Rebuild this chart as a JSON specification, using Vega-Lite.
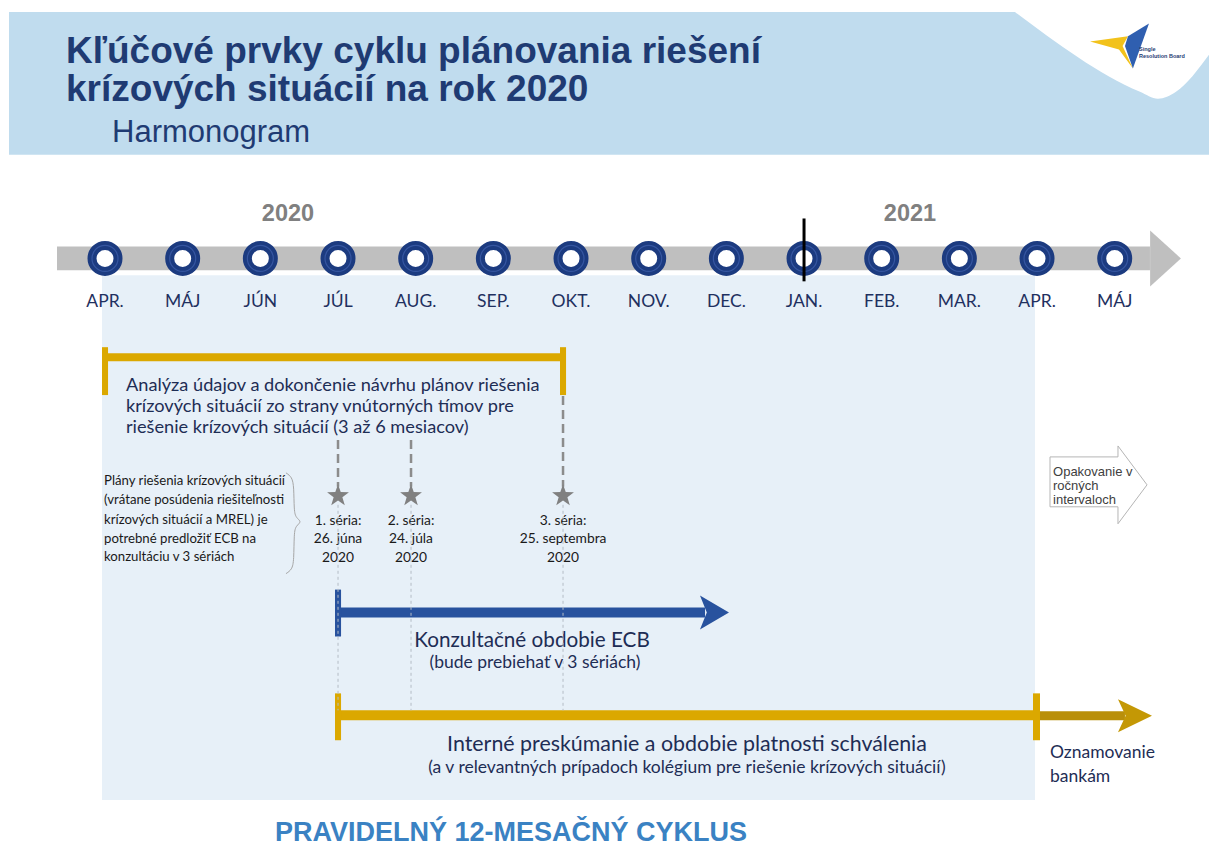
{
"$schema":"https://vega.github.io/schema/vega-lite/v6.json",
"width":1209,"height":846,"padding":0,
"autosize":{"type":"fit","contains":"padding"},
"background":"#ffffff",
"config":{"view":{"stroke":null}},
"datasets":{
"shapes":[
{"part":"header","x":-1.236,"x2":14.214,"y":12,"y2":155},
{"part":"panel","x":-0.039,"x2":11.974,"y":276,"y2":802},
{"part":"timeline","x":-0.618,"x2":13.454,"y":247,"y2":271},
{"part":"analysis","x":0.0,"x2":5.897,"y":354,"y2":362},
{"part":"analysis","x":-0.039,"x2":0.039,"y":348,"y2":396},
{"part":"analysis","x":5.858,"x2":5.936,"y":348,"y2":396},
{"part":"consultation","x":3.0,"x2":7.725,"y":609,"y2":619},
{"part":"consultation","x":2.961,"x2":3.039,"y":591,"y2":638},
{"part":"review","x":3.0,"x2":11.974,"y":712,"y2":722},
{"part":"review","x":2.961,"x2":3.039,"y":695,"y2":742},
{"part":"review","x":11.948,"x2":12.038,"y":695,"y2":742},
{"part":"notification","x":12.038,"x2":13.132,"y":713,"y2":722}
],
"cutout":[
{"x":11.716,"y":12,"y2":12},
{"x":13.326,"y":92,"y2":12},
{"x":13.557,"y":99,"y2":12},
{"x":13.789,"y":92,"y2":12},
{"x":14.214,"y":55,"y2":12}
],
"logo":[{"part":"wing","x":13.055,"y":46}],
"heads":[
{"part":"timeline","x":13.654,"y":259},
{"part":"consultation","x":7.847,"y":614},
{"part":"notification","x":13.261,"y":717.5}
],
"months":[
{"x":0,"label":"APR."},{"x":1,"label":"MÁJ"},{"x":2,"label":"JÚN"},{"x":3,"label":"JÚL"},
{"x":4,"label":"AUG."},{"x":5,"label":"SEP."},{"x":6,"label":"OKT."},{"x":7,"label":"NOV."},
{"x":8,"label":"DEC."},{"x":9,"label":"JAN."},{"x":10,"label":"FEB."},{"x":11,"label":"MAR."},
{"x":12,"label":"APR."},{"x":13,"label":"MÁJ"}
],
"marker":[{"x":9,"y":219,"y2":282}],
"dashes":[
{"kind":"heavy","x":3.0,"y":441,"y2":488},
{"kind":"heavy","x":3.94,"y":441,"y2":488},
{"kind":"heavy","x":5.897,"y":397,"y2":488},
{"kind":"thin","x":3.0,"y":506,"y2":712},
{"kind":"thin","x":3.94,"y":506,"y2":712},
{"kind":"thin","x":5.897,"y":506,"y2":712}
],
"stars":[{"x":3.0,"y":497},{"x":3.94,"y":497},{"x":5.897,"y":497}],
"brace":[
{"o":1,"x":2.33,"y":474},{"o":2,"x":2.407,"y":478},{"o":3,"x":2.433,"y":488},{"o":4,"x":2.433,"y":512},
{"o":5,"x":2.458,"y":519},{"o":6,"x":2.536,"y":523},{"o":7,"x":2.458,"y":527},{"o":8,"x":2.433,"y":534},
{"o":9,"x":2.433,"y":562},{"o":10,"x":2.407,"y":571},{"o":11,"x":2.33,"y":575}
],
"repeatBox":[
{"o":1,"x":12.167,"y":458},{"o":2,"x":13.042,"y":458},{"o":3,"x":13.042,"y":447},{"o":4,"x":13.416,"y":486},
{"o":5,"x":13.042,"y":525},{"o":6,"x":13.042,"y":508},{"o":7,"x":12.167,"y":508},{"o":8,"x":12.167,"y":458}
],
"texts":[
{"role":"title","x":-0.502,"y":63,"t":"Kľúčové prvky cyklu plánovania riešení"},
{"role":"title","x":-0.502,"y":101,"t":"krízových situácií na rok 2020"},
{"role":"subtitle","x":0.09,"y":142,"t":"Harmonogram"},
{"role":"year","x":2.356,"y":222,"t":"2020"},
{"role":"year","x":10.364,"y":222,"t":"2021"},
{"role":"analysis","x":0.27,"y":392,"t":"Analýza údajov a dokončenie návrhu plánov riešenia"},
{"role":"analysis","x":0.27,"y":413,"t":"krízových situácií zo strany vnútorných tímov pre"},
{"role":"analysis","x":0.27,"y":434,"t":"riešenie krízových situácií (3 až 6 mesiacov)"},
{"role":"note","x":-0.013,"y":486,"t":"Plány riešenia krízových situácií"},
{"role":"note","x":-0.013,"y":505,"t":"(vrátane posúdenia riešiteľnosti"},
{"role":"note","x":-0.013,"y":525,"t":"krízových situácií a MREL) je"},
{"role":"note","x":-0.013,"y":544,"t":"potrebné predložiť ECB na"},
{"role":"note","x":-0.013,"y":562,"t":"konzultáciu v 3 sériách"},
{"role":"series","x":3.0,"y":526,"t":"1. séria:"},
{"role":"series","x":3.0,"y":544,"t":"26. júna"},
{"role":"series","x":3.0,"y":563,"t":"2020"},
{"role":"series","x":3.94,"y":526,"t":"2. séria:"},
{"role":"series","x":3.94,"y":544,"t":"24. júla"},
{"role":"series","x":3.94,"y":563,"t":"2020"},
{"role":"series","x":5.897,"y":526,"t":"3. séria:"},
{"role":"series","x":5.897,"y":544,"t":"25. septembra"},
{"role":"series","x":5.897,"y":563,"t":"2020"},
{"role":"consult","x":5.498,"y":649,"t":"Konzultačné obdobie ECB"},
{"role":"consultSub","x":5.536,"y":670,"t":"(bude prebiehať v 3 sériách)"},
{"role":"review","x":7.493,"y":753,"t":"Interné preskúmanie a obdobie platnosti schválenia"},
{"role":"reviewSub","x":7.493,"y":775,"t":"(a v relevantných prípadoch kolégium pre riešenie krízových situácií)"},
{"role":"notify","x":12.167,"y":760,"t":"Oznamovanie"},
{"role":"notify","x":12.167,"y":784,"t":"bankám"},
{"role":"repeat","x":12.206,"y":477,"t":"Opakovanie v"},
{"role":"repeat","x":12.206,"y":491,"t":"ročných"},
{"role":"repeat","x":12.206,"y":505,"t":"intervaloch"},
{"role":"footer","x":5.227,"y":843,"t":"PRAVIDELNÝ 12-MESAČNÝ CYKLUS"},
{"role":"logo","x":13.313,"y":51,"t":"Single"},
{"role":"logo","x":13.313,"y":58,"t":"Resolution Board"}
]
},
"layer":[
{"data":{"name":"shapes"},"mark":{"type":"rect"},
 "encoding":{
  "x":{"field":"x","type":"quantitative","scale":{"domain":[-1.352,14.214],"nice":false,"zero":false},"axis":null},
  "x2":{"field":"x2"},
  "y":{"field":"y","type":"quantitative","scale":{"domain":[0,846],"reverse":true,"nice":false,"zero":false},"axis":null},
  "y2":{"field":"y2"},
  "color":{"field":"part","type":"nominal","legend":null,"scale":{"domain":["header","panel","timeline","analysis","consultation","review","notification"],"range":["#c0dcee","#e7f0f8","#bfbfbf","#dba800","#28529e","#dba800","#b98f0a"]}}
 }},
{"data":{"name":"texts"},"transform":[{"filter":"datum.role==='title'"}],
 "mark":{"type":"text","font":"Liberation Sans","fontWeight":"bold","fontSize":37,"align":"left","baseline":"alphabetic","color":"#1f3b73"},
 "encoding":{
  "x":{"field":"x","type":"quantitative","scale":{"domain":[-1.352,14.214],"nice":false,"zero":false},"axis":null},
  "y":{"field":"y","type":"quantitative","scale":{"domain":[0,846],"reverse":true,"nice":false,"zero":false},"axis":null},
  "text":{"field":"t"}
 }},
{"data":{"name":"texts"},"transform":[{"filter":"datum.role==='subtitle'"}],
 "mark":{"type":"text","font":"Liberation Sans","fontSize":31,"align":"left","baseline":"alphabetic","color":"#1f3b73"},
 "encoding":{
  "x":{"field":"x","type":"quantitative","scale":{"domain":[-1.352,14.214],"nice":false,"zero":false},"axis":null},
  "y":{"field":"y","type":"quantitative","scale":{"domain":[0,846],"reverse":true,"nice":false,"zero":false},"axis":null},
  "text":{"field":"t"}
 }},
{"data":{"name":"cutout"},"mark":{"type":"area","orient":"vertical","color":"#ffffff","interpolate":"monotone"},
 "encoding":{
  "x":{"field":"x","type":"quantitative","scale":{"domain":[-1.352,14.214],"nice":false,"zero":false},"axis":null},
  "y":{"field":"y","type":"quantitative","scale":{"domain":[0,846],"reverse":true,"nice":false,"zero":false},"axis":null},
  "y2":{"field":"y2"}
 }},
{"data":{"name":"logo"},"mark":{"type":"point","filled":true,"opacity":1,"color":"#f2c21b","size":3600,"shape":"M-0.964,-0.143L0.3,-0.32L0.12,0.0L0.464,0.75L0.0,0.12Z"},
 "encoding":{
  "x":{"field":"x","type":"quantitative","scale":{"domain":[-1.352,14.214],"nice":false,"zero":false},"axis":null},
  "y":{"field":"y","type":"quantitative","scale":{"domain":[0,846],"reverse":true,"nice":false,"zero":false},"axis":null}
 }},
{"data":{"name":"logo"},"mark":{"type":"point","filled":true,"opacity":1,"color":"#2f5fb0","size":3600,"shape":"M1.0,-0.75L0.464,0.75L0.2,0.0L0.3,-0.32Z"},
 "encoding":{
  "x":{"field":"x","type":"quantitative","scale":{"domain":[-1.352,14.214],"nice":false,"zero":false},"axis":null},
  "y":{"field":"y","type":"quantitative","scale":{"domain":[0,846],"reverse":true,"nice":false,"zero":false},"axis":null}
 }},
{"data":{"name":"texts"},"transform":[{"filter":"datum.role==='logo'"}],
 "mark":{"type":"text","font":"Liberation Sans","fontWeight":"bold","fontSize":5.5,"align":"left","baseline":"alphabetic","color":"#1f3b73"},
 "encoding":{
  "x":{"field":"x","type":"quantitative","scale":{"domain":[-1.352,14.214],"nice":false,"zero":false},"axis":null},
  "y":{"field":"y","type":"quantitative","scale":{"domain":[0,846],"reverse":true,"nice":false,"zero":false},"axis":null},
  "text":{"field":"t"}
 }},
{"data":{"name":"heads"},"transform":[{"filter":"datum.part==='timeline'"}],
 "mark":{"type":"point","filled":true,"opacity":1,"color":"#bfbfbf","size":3136,"shape":"M-0.55,-1L0.55,0L-0.55,1Z"},
 "encoding":{
  "x":{"field":"x","type":"quantitative","scale":{"domain":[-1.352,14.214],"nice":false,"zero":false},"axis":null},
  "y":{"field":"y","type":"quantitative","scale":{"domain":[0,846],"reverse":true,"nice":false,"zero":false},"axis":null}
 }},
{"data":{"name":"heads"},"transform":[{"filter":"datum.part==='consultation'"}],
 "mark":{"type":"point","filled":true,"opacity":1,"color":"#28529e","size":1156,"shape":"M-0.853,-1L0.853,0L-0.853,1L-0.45,0Z"},
 "encoding":{
  "x":{"field":"x","type":"quantitative","scale":{"domain":[-1.352,14.214],"nice":false,"zero":false},"axis":null},
  "y":{"field":"y","type":"quantitative","scale":{"domain":[0,846],"reverse":true,"nice":false,"zero":false},"axis":null}
 }},
{"data":{"name":"heads"},"transform":[{"filter":"datum.part==='notification'"}],
 "mark":{"type":"point","filled":true,"opacity":1,"color":"#c49805","size":1156,"shape":"M-1,-0.97L1,0L-1,0.97L-0.55,0Z"},
 "encoding":{
  "x":{"field":"x","type":"quantitative","scale":{"domain":[-1.352,14.214],"nice":false,"zero":false},"axis":null},
  "y":{"field":"y","type":"quantitative","scale":{"domain":[0,846],"reverse":true,"nice":false,"zero":false},"axis":null}
 }},
{"data":{"name":"texts"},"transform":[{"filter":"datum.role==='year'"}],
 "mark":{"type":"text","font":"Liberation Sans","fontWeight":"bold","fontSize":23.5,"align":"center","baseline":"alphabetic","color":"#808080"},
 "encoding":{
  "x":{"field":"x","type":"quantitative","scale":{"domain":[-1.352,14.214],"nice":false,"zero":false},"axis":null},
  "y":{"field":"y","type":"quantitative","scale":{"domain":[0,846],"reverse":true,"nice":false,"zero":false},"axis":null},
  "text":{"field":"t"}
 }},
{"data":{"name":"months"},"mark":{"type":"text","font":"Lato","fontSize":17.5,"align":"center","baseline":"alphabetic","color":"#1f3060"},
 "encoding":{
  "x":{"field":"x","type":"quantitative","scale":{"domain":[-1.352,14.214],"nice":false,"zero":false},"axis":null},
  "y":{"datum":308,"type":"quantitative","scale":{"domain":[0,846],"reverse":true,"nice":false,"zero":false},"axis":null},
  "text":{"field":"label"}
 }},
{"data":{"name":"months"},"mark":{"type":"point","filled":true,"opacity":1,"fill":"#ffffff","stroke":"#1c3b80","strokeWidth":9,"size":676,"shape":"circle"},
 "encoding":{
  "x":{"field":"x","type":"quantitative","scale":{"domain":[-1.352,14.214],"nice":false,"zero":false},"axis":null},
  "y":{"datum":259,"type":"quantitative","scale":{"domain":[0,846],"reverse":true,"nice":false,"zero":false},"axis":null}
 }},
{"data":{"name":"months"},"mark":{"type":"point","filled":false,"opacity":1,"stroke":"#3656a0","strokeWidth":1.2,"size":676,"shape":"circle"},
 "encoding":{
  "x":{"field":"x","type":"quantitative","scale":{"domain":[-1.352,14.214],"nice":false,"zero":false},"axis":null},
  "y":{"datum":259,"type":"quantitative","scale":{"domain":[0,846],"reverse":true,"nice":false,"zero":false},"axis":null}
 }},
{"data":{"name":"marker"},"mark":{"type":"rule","color":"#000000","strokeWidth":3},
 "encoding":{
  "x":{"field":"x","type":"quantitative","scale":{"domain":[-1.352,14.214],"nice":false,"zero":false},"axis":null},
  "y":{"field":"y","type":"quantitative","scale":{"domain":[0,846],"reverse":true,"nice":false,"zero":false},"axis":null},
  "y2":{"field":"y2"}
 }},
{"data":{"name":"texts"},"transform":[{"filter":"datum.role==='analysis'"}],
 "mark":{"type":"text","font":"Lato","fontSize":18.2,"align":"left","baseline":"alphabetic","color":"#1e2d55"},
 "encoding":{
  "x":{"field":"x","type":"quantitative","scale":{"domain":[-1.352,14.214],"nice":false,"zero":false},"axis":null},
  "y":{"field":"y","type":"quantitative","scale":{"domain":[0,846],"reverse":true,"nice":false,"zero":false},"axis":null},
  "text":{"field":"t"}
 }},
{"data":{"name":"texts"},"transform":[{"filter":"datum.role==='note'"}],
 "mark":{"type":"text","font":"Lato","fontSize":13.2,"align":"left","baseline":"alphabetic","color":"#1a1a1a"},
 "encoding":{
  "x":{"field":"x","type":"quantitative","scale":{"domain":[-1.352,14.214],"nice":false,"zero":false},"axis":null},
  "y":{"field":"y","type":"quantitative","scale":{"domain":[0,846],"reverse":true,"nice":false,"zero":false},"axis":null},
  "text":{"field":"t"}
 }},
{"data":{"name":"texts"},"transform":[{"filter":"datum.role==='series'"}],
 "mark":{"type":"text","font":"Lato","fontSize":13.8,"align":"center","baseline":"alphabetic","color":"#1a1a1a"},
 "encoding":{
  "x":{"field":"x","type":"quantitative","scale":{"domain":[-1.352,14.214],"nice":false,"zero":false},"axis":null},
  "y":{"field":"y","type":"quantitative","scale":{"domain":[0,846],"reverse":true,"nice":false,"zero":false},"axis":null},
  "text":{"field":"t"}
 }},
{"data":{"name":"texts"},"transform":[{"filter":"datum.role==='consult'"}],
 "mark":{"type":"text","font":"Lato","fontSize":20.7,"align":"center","baseline":"alphabetic","color":"#1e2d55"},
 "encoding":{
  "x":{"field":"x","type":"quantitative","scale":{"domain":[-1.352,14.214],"nice":false,"zero":false},"axis":null},
  "y":{"field":"y","type":"quantitative","scale":{"domain":[0,846],"reverse":true,"nice":false,"zero":false},"axis":null},
  "text":{"field":"t"}
 }},
{"data":{"name":"texts"},"transform":[{"filter":"datum.role==='consultSub'"}],
 "mark":{"type":"text","font":"Lato","fontSize":17.5,"align":"center","baseline":"alphabetic","color":"#1e2d55"},
 "encoding":{
  "x":{"field":"x","type":"quantitative","scale":{"domain":[-1.352,14.214],"nice":false,"zero":false},"axis":null},
  "y":{"field":"y","type":"quantitative","scale":{"domain":[0,846],"reverse":true,"nice":false,"zero":false},"axis":null},
  "text":{"field":"t"}
 }},
{"data":{"name":"texts"},"transform":[{"filter":"datum.role==='review'"}],
 "mark":{"type":"text","font":"Lato","fontSize":21.4,"align":"center","baseline":"alphabetic","color":"#1e2d55"},
 "encoding":{
  "x":{"field":"x","type":"quantitative","scale":{"domain":[-1.352,14.214],"nice":false,"zero":false},"axis":null},
  "y":{"field":"y","type":"quantitative","scale":{"domain":[0,846],"reverse":true,"nice":false,"zero":false},"axis":null},
  "text":{"field":"t"}
 }},
{"data":{"name":"texts"},"transform":[{"filter":"datum.role==='reviewSub'"}],
 "mark":{"type":"text","font":"Lato","fontSize":17.5,"align":"center","baseline":"alphabetic","color":"#1e2d55"},
 "encoding":{
  "x":{"field":"x","type":"quantitative","scale":{"domain":[-1.352,14.214],"nice":false,"zero":false},"axis":null},
  "y":{"field":"y","type":"quantitative","scale":{"domain":[0,846],"reverse":true,"nice":false,"zero":false},"axis":null},
  "text":{"field":"t"}
 }},
{"data":{"name":"texts"},"transform":[{"filter":"datum.role==='notify'"}],
 "mark":{"type":"text","font":"Lato","fontSize":17.5,"align":"left","baseline":"alphabetic","color":"#1e2d55"},
 "encoding":{
  "x":{"field":"x","type":"quantitative","scale":{"domain":[-1.352,14.214],"nice":false,"zero":false},"axis":null},
  "y":{"field":"y","type":"quantitative","scale":{"domain":[0,846],"reverse":true,"nice":false,"zero":false},"axis":null},
  "text":{"field":"t"}
 }},
{"data":{"name":"texts"},"transform":[{"filter":"datum.role==='repeat'"}],
 "mark":{"type":"text","font":"Liberation Sans","fontSize":13,"align":"left","baseline":"alphabetic","color":"#404040"},
 "encoding":{
  "x":{"field":"x","type":"quantitative","scale":{"domain":[-1.352,14.214],"nice":false,"zero":false},"axis":null},
  "y":{"field":"y","type":"quantitative","scale":{"domain":[0,846],"reverse":true,"nice":false,"zero":false},"axis":null},
  "text":{"field":"t"}
 }},
{"data":{"name":"texts"},"transform":[{"filter":"datum.role==='footer'"}],
 "mark":{"type":"text","font":"Liberation Sans","fontWeight":"bold","fontSize":27,"align":"center","baseline":"alphabetic","color":"#3a82c3"},
 "encoding":{
  "x":{"field":"x","type":"quantitative","scale":{"domain":[-1.352,14.214],"nice":false,"zero":false},"axis":null},
  "y":{"field":"y","type":"quantitative","scale":{"domain":[0,846],"reverse":true,"nice":false,"zero":false},"axis":null},
  "text":{"field":"t"}
 }},
{"data":{"name":"brace"},"mark":{"type":"line","color":"#a6a6a6","strokeWidth":1,"interpolate":"basis"},
 "encoding":{
  "x":{"field":"x","type":"quantitative","scale":{"domain":[-1.352,14.214],"nice":false,"zero":false},"axis":null},
  "y":{"field":"y","type":"quantitative","scale":{"domain":[0,846],"reverse":true,"nice":false,"zero":false},"axis":null},
  "order":{"field":"o","type":"quantitative"}
 }},
{"data":{"name":"repeatBox"},"mark":{"type":"line","color":"#b5b5b5","strokeWidth":1},
 "encoding":{
  "x":{"field":"x","type":"quantitative","scale":{"domain":[-1.352,14.214],"nice":false,"zero":false},"axis":null},
  "y":{"field":"y","type":"quantitative","scale":{"domain":[0,846],"reverse":true,"nice":false,"zero":false},"axis":null},
  "order":{"field":"o","type":"quantitative"}
 }},
{"data":{"name":"dashes"},"transform":[{"filter":"datum.kind==='heavy'"}],
 "mark":{"type":"rule","color":"#8c8c8c","strokeWidth":2.5,"strokeDash":[9,5]},
 "encoding":{
  "x":{"field":"x","type":"quantitative","scale":{"domain":[-1.352,14.214],"nice":false,"zero":false},"axis":null},
  "y":{"field":"y","type":"quantitative","scale":{"domain":[0,846],"reverse":true,"nice":false,"zero":false},"axis":null},
  "y2":{"field":"y2"}
 }},
{"data":{"name":"dashes"},"transform":[{"filter":"datum.kind==='thin'"}],
 "mark":{"type":"rule","color":"#b4bcc6","strokeWidth":1,"strokeDash":[3,3]},
 "encoding":{
  "x":{"field":"x","type":"quantitative","scale":{"domain":[-1.352,14.214],"nice":false,"zero":false},"axis":null},
  "y":{"field":"y","type":"quantitative","scale":{"domain":[0,846],"reverse":true,"nice":false,"zero":false},"axis":null},
  "y2":{"field":"y2"}
 }},
{"data":{"name":"stars"},"mark":{"type":"point","filled":true,"opacity":1,"color":"#808080","size":530,"shape":"M0,-1L0.235,-0.324L0.951,-0.309L0.38,0.124L0.588,0.809L0,0.4L-0.588,0.809L-0.38,0.124L-0.951,-0.309L-0.235,-0.324Z"},
 "encoding":{
  "x":{"field":"x","type":"quantitative","scale":{"domain":[-1.352,14.214],"nice":false,"zero":false},"axis":null},
  "y":{"field":"y","type":"quantitative","scale":{"domain":[0,846],"reverse":true,"nice":false,"zero":false},"axis":null}
 }}
]
}
